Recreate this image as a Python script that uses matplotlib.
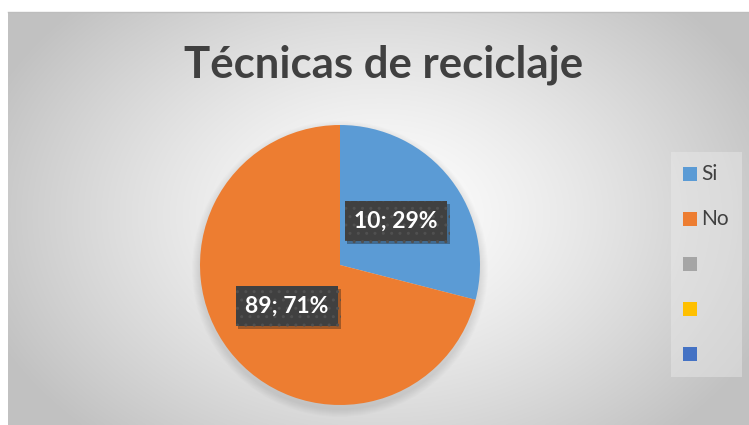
import numpy as np
import matplotlib
matplotlib.use("Agg")
import matplotlib.pyplot as plt
from matplotlib.patches import Rectangle, Circle
import matplotlib.patheffects as pe

title = "Técnicas de reciclaje"
categories = ["Si", "No", "", "", ""]
counts = [10, 89]
shares = [29, 71]
slice_colors = ["#5B9BD5", "#ED7D31"]
legend_colors = ["#5B9BD5", "#ED7D31", "#A5A5A5", "#FFC000", "#4472C4"]

W, H = 749, 425
fig = plt.figure(figsize=(W / 100, H / 100), dpi=100)
ax = fig.add_axes([0, 0, 1, 1])

# radial gradient background
x0, x1, ytop, ybot = 8, 749, 12, 425
xs = np.linspace(x0, x1, 400)
ys = np.linspace(ytop, ybot, 240)
X, Y = np.meshgrid(xs, ys)
cx, cy = 380, 215
r = np.sqrt(((X - cx) / 420) ** 2 + ((Y - cy) / 300) ** 2)
r = np.clip(r, 0, 1)
val = 1.0 - 0.24 * r ** 1.3
img = np.dstack([val, val, val])
ax.imshow(img, extent=(x0, x1, H - ybot, H - ytop), origin="upper",
          aspect="auto", zorder=0, interpolation="bilinear")
ax.plot([x0, x1], [H - ytop, H - ytop], color="#bdbdbd", lw=1, zorder=1)

pcx, pcy, R = 340, H - 265, 140
# soft shadow
for i in range(8):
    ax.add_patch(Circle((pcx, pcy - 4), R + 8 - i, color="#000000",
                        alpha=0.012, lw=0, zorder=1))

wedges, _ = ax.pie(shares, colors=slice_colors, startangle=90,
                   counterclock=False, center=(pcx, pcy), radius=R,
                   wedgeprops=dict(linewidth=0), frame=True)
for w in wedges:
    w.set_zorder(2)

font = "Lato"
label_pos = [(396, 221), (287, 306)]
for c, s, (lx, ly) in zip(counts, shares, label_pos):
    t = ax.text(lx, H - ly, f"{c}; {s}%", ha="center", va="center",
                fontsize=16.5, fontweight="bold", color="white", family=font,
                zorder=5,
                bbox=dict(boxstyle="square,pad=0.42", facecolor="#404040",
                          edgecolor="#505050", linewidth=0, hatch=".."))
    t.get_bbox_patch().set_path_effects(
        [pe.SimplePatchShadow(offset=(2, -2), alpha=0.35), pe.Normal()])

ax.text(384, H - 65, title, ha="center", va="center", fontsize=31.5,
        fontweight="bold", color="#404040", family=font, zorder=5)

# legend (drawn manually for exact placement)
ax.add_patch(Rectangle((671, H - 377), 71, 225, facecolor="#ebebeb",
                       alpha=0.45, lw=0, zorder=3))
leg_y = [173.5, 219, 263.5, 308.5, 353.5]
for lab, col, yy in zip(categories, legend_colors, leg_y):
    ax.add_patch(Rectangle((683, H - yy - 7), 14, 14, facecolor=col,
                           lw=0, zorder=4))
    if lab:
        ax.text(701, H - yy, lab, ha="left", va="center", fontsize=15,
                color="#404040", family=font, zorder=4)

ax.set_xlim(0, W)
ax.set_ylim(0, H)
ax.set_aspect("auto")
ax.axis("off")
fig.savefig("out.png", dpi=100, facecolor="white")
